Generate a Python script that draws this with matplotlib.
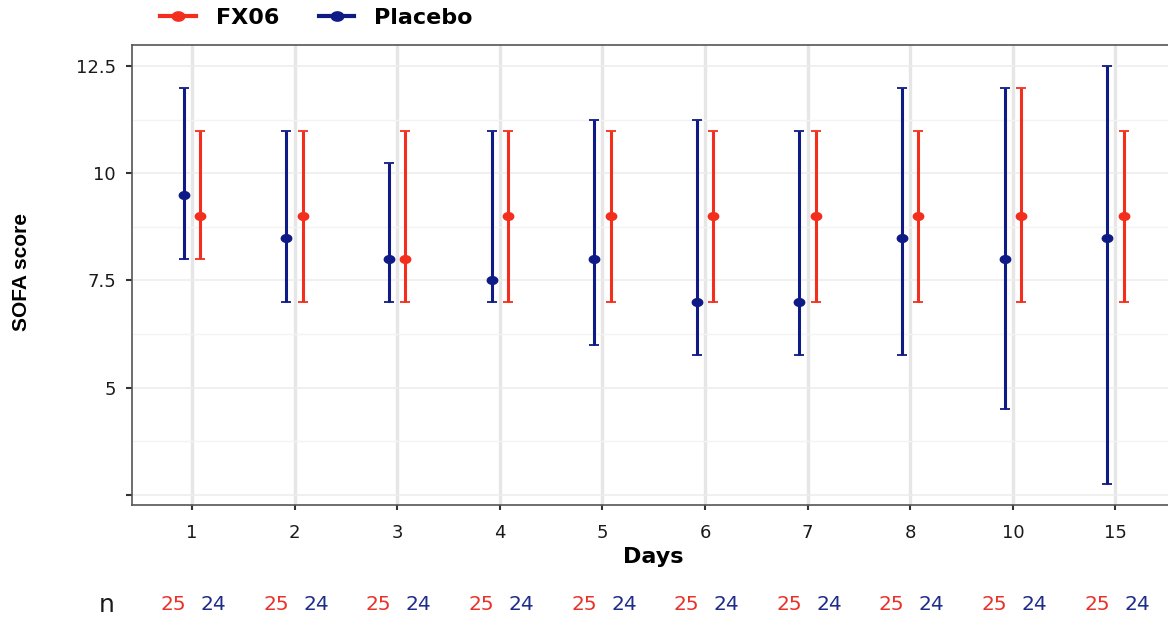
import matplotlib.pyplot as plt
import matplotlib.transforms as mtransforms
from matplotlib.lines import Line2D
from matplotlib.path import Path
import numpy as np

plt.rcParams["font.family"] = ["DejaVu Sans"]

days = ["1", "2", "3", "4", "5", "6", "7", "8", "10", "15"]

fx06_median = [9, 9, 8, 9, 9, 9, 9, 9, 9, 9]
fx06_low = [8, 7, 7, 7, 7, 7, 7, 7, 7, 7]
fx06_high = [11, 11, 11, 11, 11, 11, 11, 11, 12, 11]

placebo_median = [9.5, 8.5, 8, 7.5, 8, 7, 7, 8.5, 8, 8.5]
placebo_low = [8, 7, 7, 7, 6, 5.75, 5.75, 5.75, 4.5, 2.75]
placebo_high = [12, 11, 10.25, 11, 11.25, 11.25, 11, 12, 12, 12.5]

n_fx06 = [25] * 10
n_placebo = [24] * 10

RED = "#F42E1C"
NAVY = "#0E1A85"

# slightly flattened dot, like the reference
t = np.linspace(0, 2 * np.pi, 40)
ellipse = Path(np.column_stack([1.35 * np.cos(t), np.sin(t)]), closed=True)

fig = plt.figure(figsize=(11.68, 6.2), dpi=100)
ax = fig.add_axes([0.113, 0.1855, 0.8934, 0.7415])

x = np.arange(len(days))
dodge = 0.08

for xs, med, lo, hi, col in [
    (x - dodge, placebo_median, placebo_low, placebo_high, NAVY),
    (x + dodge, fx06_median, fx06_low, fx06_high, RED),
]:
    med = np.array(med)
    yerr = [med - np.array(lo), np.array(hi) - med]
    ax.errorbar(xs, med, yerr=yerr, fmt="none", ecolor=col,
                elinewidth=2.2, capsize=3.8, capthick=1.3, zorder=3)
    ax.plot(xs, med, linestyle="none", marker=ellipse, markersize=7.5,
            color=col, zorder=4)

ax.set_xlim(-0.585, len(days) - 1 + 0.585)
ax.set_ylim(2.26, 12.99)
ax.set_xticks(x)
ax.set_xticklabels(days)
ax.set_yticks([2.5, 5, 7.5, 10, 12.5])
ax.set_yticklabels(["", "5", "7.5", "10", "12.5"])
ax.set_yticks([3.75, 6.25, 8.75, 11.25], minor=True)

ax.grid(True, axis="x", which="major", color="#E6E6E6", linewidth=2.4, zorder=0)
ax.grid(True, axis="y", which="major", color="#EDEDED", linewidth=1.2, zorder=0)
ax.grid(True, axis="y", which="minor", color="#F3F3F3", linewidth=1.0, zorder=0)
ax.set_axisbelow(True)
ax.tick_params(axis="both", which="major", length=4.5, width=1.5, color="#333333",
               labelsize=13, labelcolor="#1a1a1a")
ax.tick_params(axis="x", length=3.5, pad=10)
ax.tick_params(axis="y", pad=7)
ax.tick_params(axis="y", which="minor", length=0)
for s in ax.spines.values():
    s.set_color("#555555")
    s.set_linewidth(1.2)

ax.set_xlabel("Days", fontsize=16, fontweight="bold", labelpad=4)
fig.text(22 / 1168, 1 - 272 / 620, "SOFA score", rotation=90, ha="center", va="center",
         fontsize=15, fontweight="bold", family=["Liberation Sans", "DejaVu Sans"])

# n row below axis
trans = mtransforms.blended_transform_factory(ax.transData, fig.transFigure)
fig.text(107 / 1168, 1 - 605 / 620, "n", fontsize=18, color="#1a1a1a",
         ha="center", va="center")
for xi, nf, npl in zip(x, n_fx06, n_placebo):
    ax.text(xi - 0.18, 1 - 605 / 620, str(nf), transform=trans, fontsize=14.5,
            color="#E8332A", ha="center", va="center", clip_on=False)
    ax.text(xi + 0.21, 1 - 605 / 620, str(npl), transform=trans, fontsize=14.5,
            color="#1E2C8A", ha="center", va="center", clip_on=False)

handles = [
    Line2D([0], [0], color=RED, lw=3, marker=ellipse, markersize=9),
    Line2D([0], [0], color=NAVY, lw=3, marker=ellipse, markersize=9),
]
fig.legend(handles, ["FX06", "Placebo"], loc="center left",
           bbox_to_anchor=(160 / 1168, 1 - 18 / 620), ncol=2, frameon=False,
           prop={"size": 16, "weight": "bold"}, borderpad=0, borderaxespad=0,
           handlelength=1.6, columnspacing=1.8, handletextpad=0.9)

fig.savefig("out.png", dpi=100)
